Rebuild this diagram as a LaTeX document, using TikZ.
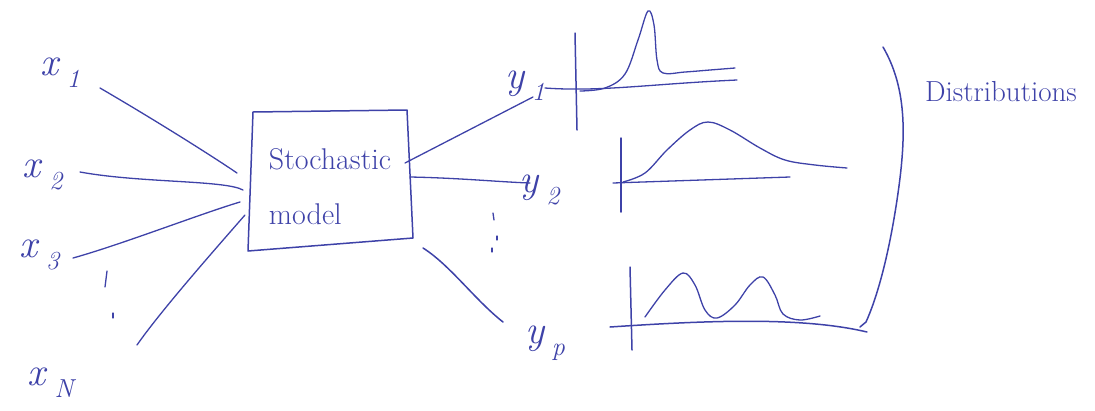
\documentclass[tikz,border=0pt]{standalone}
\usepackage{fontspec}
\definecolor{ink}{RGB}{62,66,168}
\newcommand\varlab[2]{\textit{#1}\,\raisebox{-0.3em}{\fontsize{26}{28}\selectfont\textit{#2}}}
\tikzset{
  pen/.style={draw=ink, line width=1.5pt, line cap=round, line join=round},
  thinpen/.style={draw=ink, line width=1.3pt, line cap=round, line join=round},
  lab/.style={text=ink, font=\fontsize{40}{46}\selectfont, inner sep=0pt},
  boxtext/.style={text=ink, font=\fontsize{30}{55}\selectfont, align=left, inner sep=0pt},
  bigtext/.style={text=ink, font=\fontsize{29}{34}\selectfont, inner sep=0pt},
}
\begin{document}
\begin{tikzpicture}[x=1pt,y=-1pt]
\useasboundingbox (0,0) rectangle (1095,410);
\clip (0,0) rectangle (1095,410);

% ---- input labels
\node[lab] (x1) at (60,73) {\varlab{x}{1}};
\node[lab] (x2) at (43,175) {\varlab{x}{2}};
\node[lab] (x3) at (40,255) {\varlab{x}{3}};
\node[lab] (xN) at (52,383) {\varlab{x}{N}};

% ---- model box
\node[boxtext, minimum width=160pt, minimum height=136pt] (box) at (330,187) {Stochastic\\model};
\draw[pen] (253,112) -- (407,110) -- (413,238) -- (248,251) -- cycle;

% ---- input connectors
\draw[thinpen] ([shift={(40,15)}]x1.center) .. controls (160,123) and (215,158) .. ([shift={(-93,-14)}]box.center);
\draw[thinpen] ([shift={(37,-3)}]x2.center) .. controls (140,183) and (225,180) .. ([shift={(-87,3)}]box.center);
\draw[thinpen] ([shift={(33,3)}]x3.center) .. controls (120,245) and (200,214) .. ([shift={(-90,15)}]box.center);
\draw[thinpen] ([shift={(85,-38)}]xN.center) .. controls (160,312) and (210,255) .. ([shift={(-85,28)}]box.center);

% input dots
\draw[thinpen] (107,271) -- (105,287);
\draw[thinpen] (113,313) -- (113,318);

% ---- output labels
\node[lab] (y1) at (525,86) {\varlab{y}{1}};
\node[lab] (y2) at (540,190) {\varlab{y}{2}};
\node[lab] (yp) at (545,343) {\varlab{y}{p}};

% ---- output connectors
\draw[thinpen] ([shift={(75,-24)}]box.center) -- ([shift={(8,11)}]y1.center);
\draw[thinpen] ([shift={(80,-10)}]box.center) .. controls (460,178) and (500,182) .. ([shift={(-10,-7)}]y2.center);
\draw[pen] ([shift={(93,61)}]box.center) .. controls (450,265) and (475,300) .. ([shift={(-42,-21)}]yp.center);

% output dots
\draw[thinpen] (493,213) -- (494,220);
\draw[thinpen] (497,236) -- (497,240);
\draw[thinpen] (492,248) -- (492,252);

% ---- distribution 1
\coordinate (a1) at (737,80);
\draw[thinpen] ([shift={(20,2)}]y1.center) .. controls (600,92) and (650,84) .. (a1);
\draw[pen] (575,33) -- (577,130);
\draw[thinpen] plot[smooth, tension=0.6] coordinates {(580,91) (605,88) (625,74) (638,40) (648,11) (654,25) (657,60) (663,73) (685,72) (710,70) (735,68)};

% ---- distribution 2
\draw[pen] (621,138) -- (621,212);
\draw[thinpen] (613,183) -- (790,177);
\draw[thinpen] plot[smooth, tension=0.6] coordinates {(623,182) (645,173) (667,150) (690,130) (708,122) (730,130) (760,148) (785,160) (815,165) (847,168)};

% ---- distribution 3
\draw[pen] (630,267) -- (632,350);
\draw[pen] (610,327) .. controls (700,321) and (800,316) .. (867,332);
\draw[thinpen] plot[smooth, tension=0.6] coordinates {(645,317) (665,290) (683,273) (695,285) (705,310) (717,318) (735,305) (750,285) (763,277) (775,295) (783,314) (800,320) (820,316)};

% ---- bracket
\draw[pen] (883,47) .. controls (908,90) and (906,140) .. (897,200) .. controls (888,260) and (876,300) .. (866,322) -- (860,327);

% ---- right label
\node[bigtext, anchor=west] (dist) at (925,92) {Distributions};
\end{tikzpicture}
\end{document}
